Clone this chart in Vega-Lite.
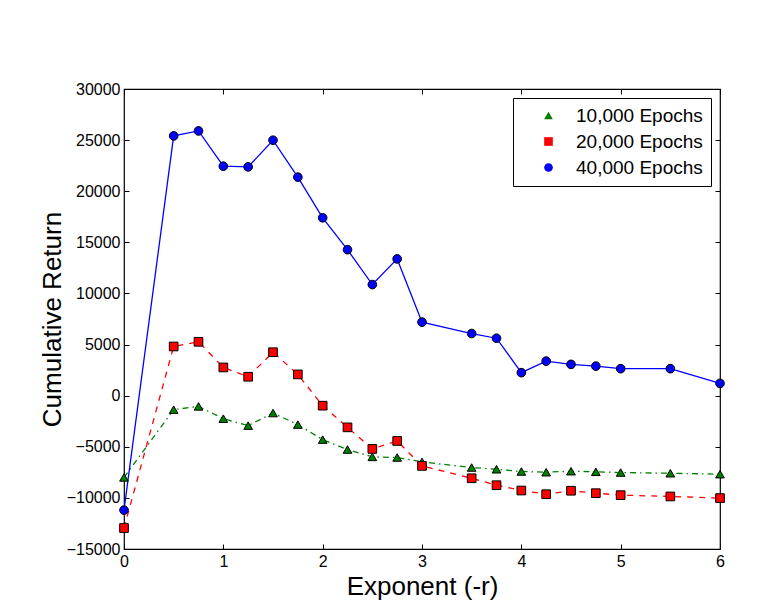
{
  "$schema": "https://vega.github.io/schema/vega-lite/v6.json",
  "width": 596,
  "height": 460,
  "autosize": {"type": "none"},
  "padding": {"left": 124, "top": 89, "right": 57, "bottom": 55},
  "background": "white",
  "config": {
    "font": "Liberation Sans",
    "view": {"stroke": "black", "strokeWidth": 1.2},
    "axis": {
      "domain": false,
      "grid": true,
      "gridColor": "black",
      "gridDash": [1, 3],
      "gridOpacity": 0.75,
      "tickColor": "black",
      "tickSize": -5,
      "labelPadding": 9,
      "labelFlush": false,
      "labelFont": "Liberation Sans",
      "labelFontSize": 16,
      "labelColor": "black",
      "titleFont": "Liberation Sans",
      "titleFontSize": 26,
      "titleFontWeight": "normal",
      "titleColor": "black"
    },
    "legend": {
      "labelFont": "Liberation Sans",
      "labelFontSize": 19,
      "labelColor": "black",
      "symbolStrokeColor": "black",
      "symbolStrokeWidth": 1
    }
  },
  "data": {
    "values": [
      {"r": 0, "v": -8000, "s": "10,000 Epochs"},
      {"r": 0.5, "v": -1370, "s": "10,000 Epochs"},
      {"r": 0.75, "v": -1050, "s": "10,000 Epochs"},
      {"r": 1, "v": -2250, "s": "10,000 Epochs"},
      {"r": 1.25, "v": -2930, "s": "10,000 Epochs"},
      {"r": 1.5, "v": -1700, "s": "10,000 Epochs"},
      {"r": 1.75, "v": -2830, "s": "10,000 Epochs"},
      {"r": 2, "v": -4300, "s": "10,000 Epochs"},
      {"r": 2.25, "v": -5270, "s": "10,000 Epochs"},
      {"r": 2.5, "v": -5990, "s": "10,000 Epochs"},
      {"r": 2.75, "v": -6050, "s": "10,000 Epochs"},
      {"r": 3, "v": -6480, "s": "10,000 Epochs"},
      {"r": 3.5, "v": -7030, "s": "10,000 Epochs"},
      {"r": 3.75, "v": -7200, "s": "10,000 Epochs"},
      {"r": 4, "v": -7420, "s": "10,000 Epochs"},
      {"r": 4.25, "v": -7490, "s": "10,000 Epochs"},
      {"r": 4.5, "v": -7390, "s": "10,000 Epochs"},
      {"r": 4.75, "v": -7450, "s": "10,000 Epochs"},
      {"r": 5, "v": -7520, "s": "10,000 Epochs"},
      {"r": 5.5, "v": -7590, "s": "10,000 Epochs"},
      {"r": 6, "v": -7680, "s": "10,000 Epochs"},
      {"r": 0, "v": -12950, "s": "20,000 Epochs"},
      {"r": 0.5, "v": 4810, "s": "20,000 Epochs"},
      {"r": 0.75, "v": 5270, "s": "20,000 Epochs"},
      {"r": 1, "v": 2760, "s": "20,000 Epochs"},
      {"r": 1.25, "v": 1850, "s": "20,000 Epochs"},
      {"r": 1.5, "v": 4250, "s": "20,000 Epochs"},
      {"r": 1.75, "v": 2080, "s": "20,000 Epochs"},
      {"r": 2, "v": -980, "s": "20,000 Epochs"},
      {"r": 2.25, "v": -3100, "s": "20,000 Epochs"},
      {"r": 2.5, "v": -5210, "s": "20,000 Epochs"},
      {"r": 2.75, "v": -4430, "s": "20,000 Epochs"},
      {"r": 3, "v": -6870, "s": "20,000 Epochs"},
      {"r": 3.5, "v": -8080, "s": "20,000 Epochs"},
      {"r": 3.75, "v": -8760, "s": "20,000 Epochs"},
      {"r": 4, "v": -9280, "s": "20,000 Epochs"},
      {"r": 4.25, "v": -9640, "s": "20,000 Epochs"},
      {"r": 4.5, "v": -9300, "s": "20,000 Epochs"},
      {"r": 4.75, "v": -9540, "s": "20,000 Epochs"},
      {"r": 5, "v": -9730, "s": "20,000 Epochs"},
      {"r": 5.5, "v": -9860, "s": "20,000 Epochs"},
      {"r": 6, "v": -10020, "s": "20,000 Epochs"},
      {"r": 0, "v": -11200, "s": "40,000 Epochs"},
      {"r": 0.5, "v": 25410, "s": "40,000 Epochs"},
      {"r": 0.75, "v": 25900, "s": "40,000 Epochs"},
      {"r": 1, "v": 22450, "s": "40,000 Epochs"},
      {"r": 1.25, "v": 22380, "s": "40,000 Epochs"},
      {"r": 1.5, "v": 24990, "s": "40,000 Epochs"},
      {"r": 1.75, "v": 21380, "s": "40,000 Epochs"},
      {"r": 2, "v": 17400, "s": "40,000 Epochs"},
      {"r": 2.25, "v": 14280, "s": "40,000 Epochs"},
      {"r": 2.5, "v": 10870, "s": "40,000 Epochs"},
      {"r": 2.75, "v": 13380, "s": "40,000 Epochs"},
      {"r": 3, "v": 7190, "s": "40,000 Epochs"},
      {"r": 3.5, "v": 6080, "s": "40,000 Epochs"},
      {"r": 3.75, "v": 5620, "s": "40,000 Epochs"},
      {"r": 4, "v": 2250, "s": "40,000 Epochs"},
      {"r": 4.25, "v": 3380, "s": "40,000 Epochs"},
      {"r": 4.5, "v": 3060, "s": "40,000 Epochs"},
      {"r": 4.75, "v": 2890, "s": "40,000 Epochs"},
      {"r": 5, "v": 2640, "s": "40,000 Epochs"},
      {"r": 5.5, "v": 2640, "s": "40,000 Epochs"},
      {"r": 6, "v": 1200, "s": "40,000 Epochs"}
    ]
  },
  "layer": [
    {
      "mark": {"type": "point", "opacity": 0},
      "encoding": {
        "x": {
          "field": "r",
          "type": "quantitative",
          "scale": {"domain": [0, 6], "nice": false},
          "axis": {"orient": "top", "values": [0, 1, 2, 3, 4, 5, 6], "labels": false, "grid": false, "title": null}
        },
        "y": {
          "field": "v",
          "type": "quantitative",
          "scale": {"domain": [-15000, 30000], "nice": false},
          "axis": {
            "orient": "right",
            "values": [-15000, -10000, -5000, 0, 5000, 10000, 15000, 20000, 25000, 30000],
            "labels": false,
            "grid": false,
            "title": null
          }
        }
      }
    },
    {
      "encoding": {
        "x": {
          "field": "r",
          "type": "quantitative",
          "scale": {"domain": [0, 6], "nice": false},
          "axis": {"orient": "bottom", "values": [0, 1, 2, 3, 4, 5, 6], "title": "Exponent (-r)", "titlePadding": 4}
        },
        "y": {
          "field": "v",
          "type": "quantitative",
          "scale": {"domain": [-15000, 30000], "nice": false},
          "axis": {
            "orient": "left",
            "values": [-15000, -10000, -5000, 0, 5000, 10000, 15000, 20000, 25000, 30000],
            "format": "d",
            "title": "Cumulative Return",
            "titlePadding": 1
          }
        }
      },
      "layer": [
        {
          "transform": [{"filter": "datum.s === '10,000 Epochs'"}],
          "mark": {"type": "line", "strokeWidth": 1.3, "stroke": "#008000", "strokeDash": [6, 4, 1.5, 4]}
        },
        {
          "transform": [{"filter": "datum.s === '20,000 Epochs'"}],
          "mark": {"type": "line", "strokeWidth": 1.3, "stroke": "#ff0000", "strokeDash": [6, 6]}
        },
        {
          "transform": [{"filter": "datum.s === '40,000 Epochs'"}],
          "mark": {"type": "line", "strokeWidth": 1.3, "stroke": "#0000ff"}
        },
        {
          "mark": {"type": "point", "filled": true, "opacity": 1, "size": 75, "stroke": "black", "strokeWidth": 1},
          "encoding": {
            "fill": {
              "field": "s",
              "type": "nominal",
              "scale": {
                "domain": ["10,000 Epochs", "20,000 Epochs", "40,000 Epochs"],
                "range": ["#008000", "#ff0000", "#0000ff"]
              },
              "legend": {
                "title": null,
                "orient": "top-right",
                "offset": 9,
                "fillColor": "white",
                "strokeColor": "black",
                "padding": 8,
                "rowPadding": 6,
                "symbolSize": 75,
                "symbolOffset": 18,
                "labelOffset": 18,
                "symbolStrokeColor": "black",
                "symbolStrokeWidth": 1,
                "encode": {
                  "symbols": {
                    "update": {
                      "stroke": {"value": "black"},
                      "strokeWidth": {"value": 1}
                    }
                  }
                }
              }
            },
            "shape": {
              "field": "s",
              "type": "nominal",
              "scale": {
                "domain": ["10,000 Epochs", "20,000 Epochs", "40,000 Epochs"],
                "range": ["triangle-up", "square", "circle"]
              },
              "legend": {
                "title": null,
                "orient": "top-right",
                "offset": 9,
                "fillColor": "white",
                "strokeColor": "black",
                "padding": 8,
                "rowPadding": 6,
                "symbolSize": 75,
                "symbolOffset": 18,
                "labelOffset": 18,
                "symbolStrokeColor": "black",
                "symbolStrokeWidth": 1,
                "encode": {
                  "symbols": {
                    "update": {
                      "stroke": {"value": "black"},
                      "strokeWidth": {"value": 1}
                    }
                  }
                }
              }
            }
          }
        }
      ]
    }
  ],
  "resolve": {"axis": {"x": "independent", "y": "independent"}}
}
